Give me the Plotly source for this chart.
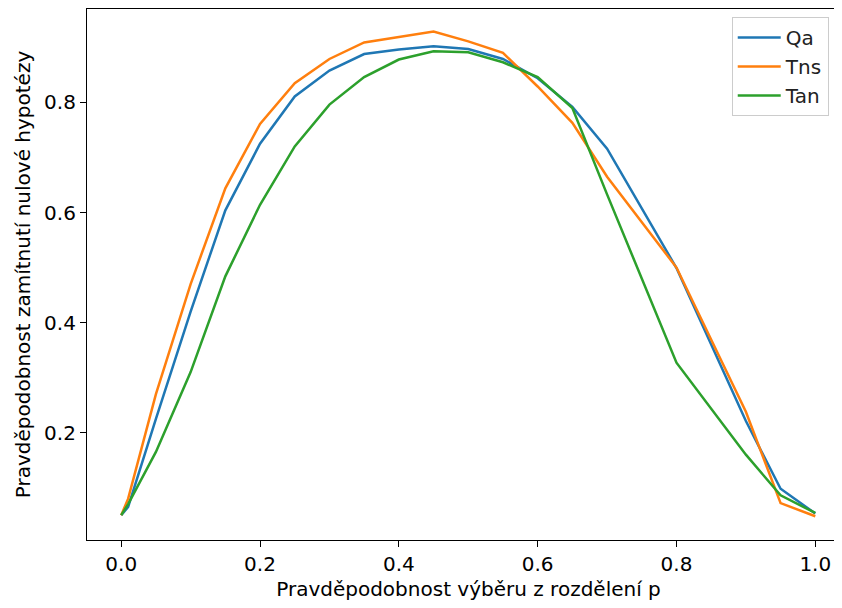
import plotly.graph_objects as go

p_values = [0, 0.01, 0.05, 0.1, 0.15, 0.2, 0.25, 0.3, 0.35, 0.4, 0.45, 0.5,
            0.55, 0.6, 0.65, 0.7, 0.8, 0.9, 0.95, 1.0]
qa = [0.050, 0.065, 0.225, 0.420, 0.604, 0.725, 0.811, 0.858, 0.888, 0.896,
      0.902, 0.897, 0.879, 0.844, 0.792, 0.716, 0.499, 0.221, 0.098, 0.053]
tns = [0.050, 0.080, 0.270, 0.470, 0.644, 0.761, 0.835, 0.879, 0.909, 0.919,
       0.929, 0.911, 0.890, 0.829, 0.763, 0.665, 0.500, 0.238, 0.072, 0.048]
tan = [0.050, 0.070, 0.165, 0.310, 0.484, 0.614, 0.720, 0.796, 0.846, 0.878,
       0.893, 0.891, 0.873, 0.846, 0.790, 0.633, 0.327, 0.160, 0.086, 0.054]

series_names = ["Qa", "Tns", "Tan"]
series_values = [qa, tns, tan]
colors = ["#1f77b4", "#ff7f0e", "#2ca02c"]

x_ticks = [0.0, 0.2, 0.4, 0.6, 0.8, 1.0]
y_ticks = [0.2, 0.4, 0.6, 0.8]

font_family = "DejaVu Sans"
fs = 20

fig = go.Figure()
for name, vals, col in zip(series_names, series_values, colors):
    fig.add_trace(go.Scatter(
        x=p_values, y=vals, mode="lines", name=name,
        legendgroup=name,
        line=dict(color=col, width=2.5),
    ))

# page has an 8px body margin, so the figure is placed 8px right and down
fig.update_layout(
    width=842, height=608,
    margin=dict(l=79, r=0, t=1, b=76, autoexpand=False),
    paper_bgcolor="white", plot_bgcolor="white",
    font=dict(family=font_family, size=fs, color="black"),
    showlegend=True,
    legend=dict(
        x=0.845, y=0.985, xanchor="left", yanchor="top",
        bgcolor="rgba(255,255,255,0.8)", bordercolor="#cccccc", borderwidth=1,
        font=dict(family=font_family, size=fs, color="#222222"),
        tracegroupgap=0, itemwidth=43,
    ),
    xaxis=dict(
        range=[-0.0493, 1.05], tickvals=x_ticks, tickformat=".1f",
        showgrid=False, zeroline=False, automargin=False,
        showline=True, linecolor="black", linewidth=1.2, mirror=True,
        ticks="outside", ticklen=6, tickwidth=1.2, tickcolor="black",
        title=dict(text="Pravděpodobnost výběru z rozdělení p", standoff=6,
                   font=dict(size=fs)),
    ),
    yaxis=dict(
        range=[0.0049, 0.9698], tickvals=y_ticks, tickformat=".1f",
        showgrid=False, zeroline=False, automargin=False,
        showline=True, linecolor="black", linewidth=1.2, mirror=True,
        ticks="outside", ticklen=6, tickwidth=1.2, tickcolor="black",
        title=dict(text="Pravděpodobnost zamítnutí nulové hypotézy", standoff=8,
                   font=dict(size=fs)),
    ),
)

fig.write_html("out.html")
